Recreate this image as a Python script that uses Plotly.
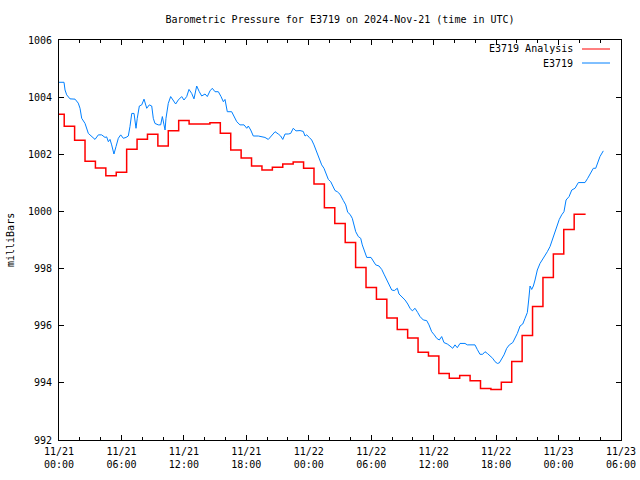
import pandas as pd
import plotly.graph_objects as go

# ---------------- data ----------------
start = pd.Timestamp("2024-11-21 00:00")
x_start = "2024-11-21 00:00"
x_end = "2024-11-23 06:00"

# Analysis: hourly values (hours after 11/21 00:00 UTC)
analysis_hours = list(range(0, 51)) + [50.6]
analysis_mb = [
    1003.40, 1002.98, 1002.49, 1001.76, 1001.52, 1001.25, 1001.37, 1002.18, 1002.53, 1002.70,
    1002.29, 1002.82, 1003.18, 1003.06, 1003.06, 1003.10, 1002.74, 1002.15, 1001.87, 1001.59,
    1001.45, 1001.55, 1001.66, 1001.73, 1001.51, 1000.96, 1000.13, 999.58, 998.91, 998.04,
    997.34, 996.93, 996.27, 995.87, 995.57, 995.07, 994.94, 994.33, 994.16, 994.26,
    994.07, 993.80, 993.77, 994.02, 994.75, 995.66, 996.67, 997.69, 998.51, 999.37,
    999.90, 999.90,
]

# Station observations (hours after 11/21 00:00 UTC)
station_hours = [
    0.00, 0.48, 0.58, 0.74, 1.06, 1.54, 1.85, 2.02, 2.18, 2.50, 2.82, 3.14, 3.46, 3.78, 4.10,
    4.42, 4.58, 4.74, 4.90, 5.06, 5.28, 5.48, 5.70, 5.93, 6.18, 6.44, 6.66, 6.82, 6.99, 7.21,
    7.40, 7.52, 7.72, 7.95, 8.17, 8.43, 8.68, 8.91, 9.06, 9.22, 9.54, 9.77, 9.93, 10.09, 10.19,
    10.28, 10.50, 10.73, 10.98, 11.21, 11.46, 11.79, 12.01, 12.27, 12.49, 12.75, 12.97, 13.23,
    13.48, 13.71, 14.03, 14.25, 14.51, 14.73, 14.99, 15.31, 15.57, 15.79, 15.95, 16.17, 16.59,
    16.82, 17.08, 17.39, 17.78, 18.04, 18.19, 18.42, 18.67, 19.15, 19.48, 19.79, 20.11, 20.34,
    20.59, 20.76, 21.07, 21.30, 21.50, 21.72, 22.03, 22.26, 22.51, 22.77, 23.16, 23.47, 23.64,
    23.80, 24.05, 24.28, 24.50, 24.76, 25.01, 25.24, 25.46, 25.66, 25.88, 26.11, 26.30, 26.52,
    26.74, 27.00, 27.32, 27.55, 27.74, 27.96, 28.18, 28.35, 28.51, 28.76, 28.99, 29.14, 29.34,
    29.57, 29.98, 30.20, 30.43, 30.75, 31.01, 31.26, 31.49, 31.71, 31.97, 32.22, 32.51, 32.67,
    32.93, 33.25, 33.51, 33.73, 33.95, 34.21, 34.47, 34.69, 35.01, 35.33, 35.55, 35.81, 36.06,
    36.29, 36.54, 36.77, 36.99, 37.31, 37.57, 37.83, 38.05, 38.27, 38.53, 39.01, 39.23, 39.66,
    39.97, 40.19, 40.45, 40.71, 40.93, 41.16, 41.41, 41.67, 41.90, 42.12, 42.31, 42.54, 42.76,
    43.02, 43.27, 43.60, 43.82, 44.04, 44.30, 44.56, 44.78, 45.00, 45.13, 45.26, 45.42, 45.58,
    45.74, 45.96, 46.22, 46.48, 46.70, 46.92, 47.18, 47.34, 47.56, 47.82, 48.07, 48.30, 48.52,
    48.72, 49.01, 49.27, 49.58, 49.90, 50.54, 50.80, 51.12, 51.34, 51.57, 51.76, 51.98, 52.30,
]
station_mb = [
    1004.52, 1004.52, 1004.25, 1004.08, 1003.94, 1003.93, 1003.79, 1003.61, 1003.26, 1003.08,
    1002.73, 1002.62, 1002.52, 1002.68, 1002.68, 1002.59, 1002.61, 1002.44, 1002.52, 1002.33,
    1002.01, 1002.27, 1002.56, 1002.68, 1002.56, 1002.59, 1002.64, 1002.97, 1003.43, 1003.43,
    1002.91, 1003.26, 1003.69, 1003.73, 1003.93, 1003.61, 1003.73, 1003.69, 1003.26, 1003.08,
    1003.03, 1003.03, 1003.32, 1003.03, 1002.85, 1003.26, 1003.78, 1004.02, 1003.90, 1003.76,
    1003.90, 1004.02, 1003.90, 1004.02, 1004.27, 1004.13, 1003.94, 1004.39, 1004.19, 1004.04,
    1004.11, 1004.02, 1004.22, 1004.31, 1004.19, 1004.19, 1004.02, 1003.84, 1003.92, 1003.49,
    1003.49, 1003.34, 1003.14, 1003.03, 1003.03, 1002.91, 1002.99, 1002.85, 1002.64, 1002.64,
    1002.62, 1002.59, 1002.52, 1002.62, 1002.71, 1002.79, 1002.71, 1002.64, 1002.52, 1002.71,
    1002.71, 1002.73, 1002.91, 1002.82, 1002.83, 1002.80, 1002.64, 1002.68, 1002.59, 1002.50,
    1002.33, 1002.09, 1001.86, 1001.63, 1001.51, 1001.31, 1001.12, 1001.04, 1000.87, 1000.73,
    1000.69, 1000.60, 1000.38, 1000.23, 999.97, 999.90, 999.76, 999.53, 999.29, 999.12,
    999.06, 998.83, 998.59, 998.39, 998.39, 998.24, 998.13, 998.09, 997.97, 997.78,
    997.60, 997.43, 997.25, 997.23, 997.31, 997.11, 997.02, 996.90, 996.76, 996.61,
    996.52, 996.61, 996.46, 996.32, 996.20, 996.18, 996.03, 995.79, 995.68, 995.56,
    995.50, 995.62, 995.41, 995.36, 995.29, 995.21, 995.33, 995.23, 995.38, 995.38,
    995.33, 995.33, 995.33, 995.17, 995.00, 995.00, 995.09, 995.03, 994.95, 994.86,
    994.74, 994.68, 994.70, 994.82, 994.98, 995.21, 995.33, 995.41, 995.56, 995.73,
    995.99, 996.06, 996.26, 996.46, 996.90, 997.39, 997.27, 997.39, 997.60, 997.95,
    998.18, 998.32, 998.44, 998.59, 998.77, 998.94, 999.18, 999.47, 999.72, 999.88,
    999.99, 1000.40, 1000.52, 1000.75, 1000.81, 1001.01, 1001.01, 1001.16, 1001.39, 1001.51,
    1001.51, 1001.74, 1001.92, 1002.12,
]

tick_times = ["2024-11-21 00:00", "2024-11-21 06:00", "2024-11-21 12:00", "2024-11-21 18:00",
              "2024-11-22 00:00", "2024-11-22 06:00", "2024-11-22 12:00", "2024-11-22 18:00",
              "2024-11-23 00:00", "2024-11-23 06:00"]
tick_labels = ["11/21<br>00:00", "11/21<br>06:00", "11/21<br>12:00", "11/21<br>18:00",
               "11/22<br>00:00", "11/22<br>06:00", "11/22<br>12:00", "11/22<br>18:00",
               "11/23<br>00:00", "11/23<br>06:00"]
y_ticks = [992, 994, 996, 998, 1000, 1002, 1004, 1006]

series_names = ["E3719 Analysis", "E3719"]
series_colors = ["#ff0000", "#0080ff"]

# ---------------- figure ----------------
FONT = "DejaVu Sans Mono"

analysis_t = [start + pd.Timedelta(hours=h) for h in analysis_hours]
station_t = [start + pd.Timedelta(hours=h) for h in station_hours]

fig = go.Figure()
fig.add_trace(go.Scatter(x=analysis_t, y=analysis_mb, mode="lines", name=series_names[0],
                         line=dict(color=series_colors[0], width=1.5, shape="hvh")))
fig.add_trace(go.Scatter(x=station_t, y=station_mb, mode="lines", name=series_names[1],
                         line=dict(color=series_colors[1], width=1)))

fig.update_layout(
    width=640, height=480,
    margin=dict(l=59, r=19, t=40, b=40, autoexpand=False),
    paper_bgcolor="white", plot_bgcolor="white",
    showlegend=False,
    font=dict(family=FONT, size=10, color="black"),
    title=dict(text="Barometric Pressure for E3719 on 2024-Nov-21 (time in UTC)",
               x=340 / 640, xanchor="center", xref="container",
               y=1 - 19 / 480, yanchor="middle", yref="container",
               font=dict(family=FONT, size=10, color="black")),
)

fig.update_xaxes(
    range=[x_start, x_end], showgrid=False, zeroline=False, automargin=False,
    showline=True, linecolor="black", linewidth=1, mirror="ticks",
    ticks="inside", ticklen=5, tickcolor="black", tickwidth=1,
    tickvals=tick_times, ticktext=tick_labels,
    minor=dict(ticks="inside", ticklen=3, tickcolor="black", dtick=2 * 3600 * 1000,
               tick0=x_start, showgrid=False),
    tickfont=dict(family=FONT, size=10, color="black"),
    ticklabelstandoff=2,
)
fig.update_yaxes(
    range=[992, 1006], showgrid=False, zeroline=False, automargin=False,
    showline=True, linecolor="black", linewidth=1, mirror="ticks",
    ticks="inside", ticklen=5, tickcolor="black", tickwidth=1,
    tickvals=y_ticks, ticktext=[str(v) for v in y_ticks],
    tickfont=dict(family=FONT, size=10, color="black"),
    ticklabelstandoff=4,
)

# y-axis label
fig.add_annotation(text="milliBars", xref="paper", yref="paper",
                   x=(10 - 59) / 562, y=0.5, textangle=-90, showarrow=False,
                   xanchor="center", yanchor="middle",
                   font=dict(family=FONT, size=10, color="black"))

# legend (gnuplot style: text right-aligned, sample line after)
legend_rows_y = [(440 - 49) / 400, (440 - 63) / 400]
for name, color, yy in zip(series_names, series_colors, legend_rows_y):
    fig.add_annotation(text=name, xref="paper", yref="paper", x=(575 - 59) / 562, y=yy,
                       xanchor="right", yanchor="middle", showarrow=False,
                       font=dict(family=FONT, size=10, color="black"))
    fig.add_shape(type="line", xref="paper", yref="paper",
                  x0=(582 - 59) / 562, x1=(610 - 59) / 562, y0=yy, y1=yy,
                  line=dict(color=color, width=1))

fig.write_html("out.html", config={"displayModeBar": False},
               post_script="document.body.style.margin='0';document.body.style.overflow='hidden';")
